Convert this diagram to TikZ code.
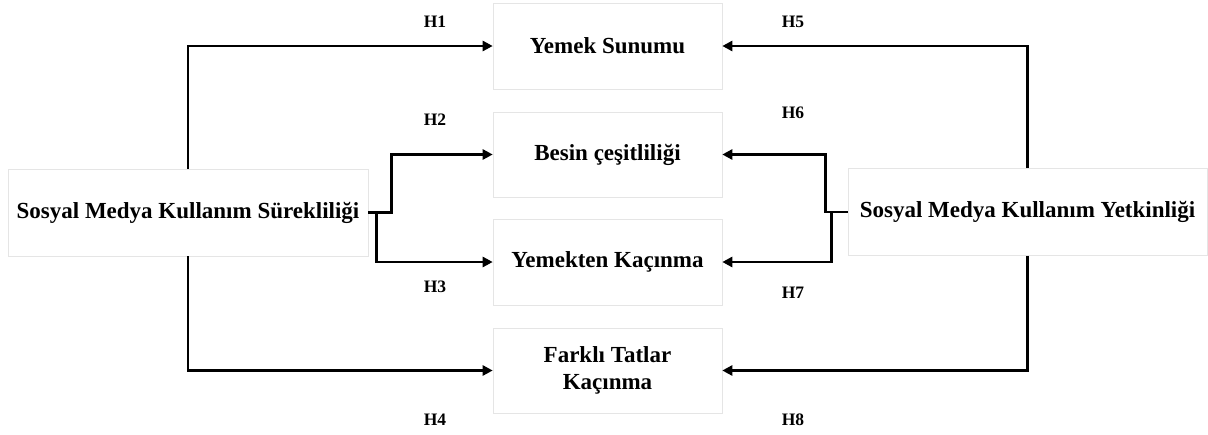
\documentclass[tikz,border=0pt]{standalone}
\usepackage{fontspec}
\setmainfont{Liberation Serif}
\usetikzlibrary{arrows.meta}
\begin{document}
\begin{tikzpicture}[x=1pt,y=-1pt,
  box/.style={draw=black!10, line width=0.6pt, fill=white, inner sep=0pt, align=center,
    font=\fontsize{23}{27}\selectfont\bfseries},
  sidebox/.style={box, minimum width=360pt, minimum height=87pt},
  midbox/.style={box, minimum width=229pt, minimum height=86pt},
  arr/.style={line width=2.8pt, -{Triangle[length=10pt,width=10pt]}},
  hlab/.style={font=\fontsize{17.5}{20}\selectfont\bfseries, inner sep=0pt}]
\useasboundingbox (0,0) rectangle (1208,434);
\node[sidebox] (L) at (188,212.5) {Sosyal Medya Kullanım Sürekliliği};
\node[sidebox, minimum width=359pt] (R) at (1027.5,212) {Sosyal Medya Kullanım Yetkinliği};
\node[midbox] (M1) at (607.5,46) {Yemek Sunumu};
\node[midbox, minimum height=85pt] (M2) at (607.5,154.5) {Besin çeşitliliği};
\node[midbox] (M3) at (607.5,262) {Yemekten Kaçınma};
\node[midbox, minimum height=85pt] (M4) at (607.5,370.5) {Farklı Tatlar\\Kaçınma};
\draw[arr] (L.north) |- (M1.west);
\draw[arr] (L.south) |- (M4.west);
\draw[arr] (L.east) -- ++(23,0) |- (M2.west);
\draw[arr] (L.east) -- ++(8,0) |- (M3.west);
\draw[arr] (R.north) |- (M1.east);
\draw[arr] (R.south) |- (M4.east);
\draw[arr] (R.west) -- ++(-22,0) |- (M2.east);
\draw[arr] (R.west) -- ++(-16,0) |- (M3.east);
\node[hlab] (h1) at (435,22) {H1};
\node[hlab] (h2) at (435,120) {H2};
\node[hlab] (h3) at (435,287) {H3};
\node[hlab] (h4) at (435,420) {H4};
\node[hlab] (h5) at (793,22) {H5};
\node[hlab] (h6) at (793,113) {H6};
\node[hlab] (h7) at (793,293) {H7};
\node[hlab] (h8) at (793,420) {H8};
\end{tikzpicture}
\end{document}
